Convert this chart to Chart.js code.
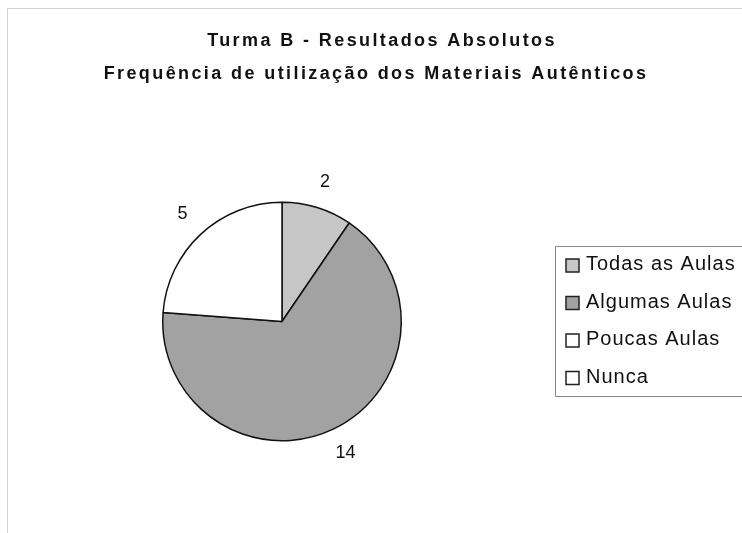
<!DOCTYPE html>
<html>
<head>
<meta charset="utf-8">
<script src="https://cdn.jsdelivr.net/npm/chart.js@4"></script>
<style>
  html, body { margin: 0; padding: 0; background: #fff; }
  #wrap { position: relative; width: 742px; height: 533px; }
</style>
</head>
<body>
<div id="wrap"><canvas id="pieChart" width="742" height="533"></canvas></div>
<script>
const titleLines = ['Turma B - Resultados Absolutos', 'Frequência de utilização dos Materiais Autênticos'];
const labels = ['Todas as Aulas', 'Algumas Aulas', 'Poucas Aulas', 'Nunca'];
const values = [2, 14, 5, 0];
const colors = ['#c6c6c6', '#a2a2a2', '#ffffff', '#ffffff'];

// frame, title, outside value labels and boxed legend, all drawn on the canvas
const decorations = {
  id: 'decorations',
  beforeDraw(chart) {
    const c = chart.ctx;
    c.save();
    c.strokeStyle = '#d4d4d4';
    c.lineWidth = 1;
    c.strokeRect(7.5, 8.5, 760, 560);
    c.restore();
  },
  afterDraw(chart) {
    const c = chart.ctx;
    c.save();
    c.fillStyle = '#111';
    c.textAlign = 'center';
    c.textBaseline = 'alphabetic';
    c.font = 'bold 18px "Liberation Sans", Arial, sans-serif';
    c.letterSpacing = '2.4px';
    c.fillText(titleLines[0], 382, 45.5);
    c.fillText(titleLines[1], 376, 78.5);

    // value labels outside the slices
    const arcs = chart.getDatasetMeta(0).data;
    c.textBaseline = 'middle';
    c.font = '18px "Liberation Sans", Arial, sans-serif';
    c.letterSpacing = '0px';
    arcs.forEach((arc, i) => {
      if (!values[i]) return;
      const mid = (arc.startAngle + arc.endAngle) / 2;
      const r = arc.outerRadius + 27;
      c.fillText(String(values[i]), arc.x + Math.cos(mid) * r, arc.y + Math.sin(mid) * r);
    });

    // legend box
    c.strokeStyle = '#888';
    c.lineWidth = 1;
    c.beginPath();
    c.moveTo(748, 246.5);
    c.lineTo(555.5, 246.5);
    c.lineTo(555.5, 396.5);
    c.lineTo(748, 396.5);
    c.stroke();
    c.textAlign = 'left';
    c.textBaseline = 'alphabetic';
    c.font = '20px "Liberation Sans", Arial, sans-serif';
    c.letterSpacing = '1px';
    labels.forEach((lab, i) => {
      const y = 270 + i * 37.5;
      c.fillStyle = colors[i];
      c.fillRect(566, y - 11, 13, 13);
      c.strokeStyle = '#222';
      c.lineWidth = 1.5;
      c.strokeRect(566, y - 11, 13, 13);
      c.fillStyle = '#111';
      c.fillText(lab, 586, y);
    });
    c.restore();
  }
};

new Chart(document.getElementById('pieChart').getContext('2d'), {
  type: 'pie',
  data: {
    labels,
    datasets: [{
      data: values,
      backgroundColor: colors,
      borderColor: '#111',
      borderWidth: 1.5
    }]
  },
  options: {
    responsive: false,
    animation: false,
    layout: { padding: { left: 162, right: 340, top: 201, bottom: 91 } },
    plugins: {
      legend: { display: false },
      title: { display: false },
      tooltip: { enabled: false }
    }
  },
  plugins: [decorations]
});
</script>
</body>
</html>
